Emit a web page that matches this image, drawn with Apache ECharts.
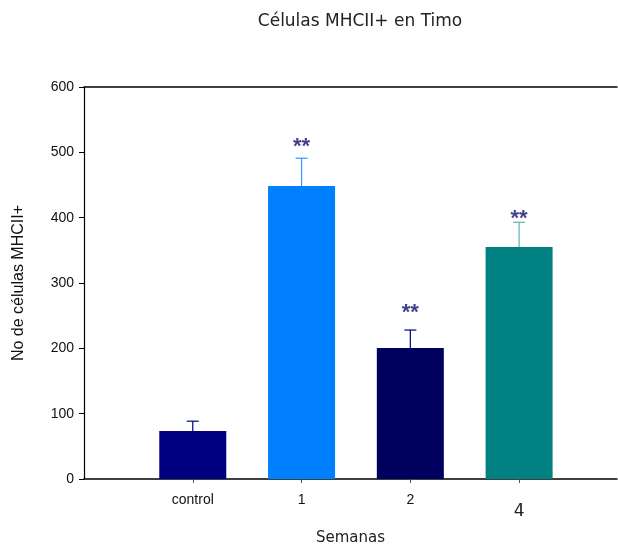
<!DOCTYPE html>
<html>
<head>
<meta charset="utf-8">
<script src="https://cdn.jsdelivr.net/npm/echarts@6/dist/echarts.min.js"></script>
<style>
  html, body { margin: 0; padding: 0; background: #fff; }
  #main { width: 618px; height: 545px; }
</style>
</head>
<body>
<div id="main"></div>
<script>
// datos
var categorias = ['control', '1', '2', '4'];
var medias = [73.5, 448.5, 200.5, 355];
var errores = [15, 42.5, 27.5, 38];
var significancia = ['', '**', '**', '**'];
var alturaAsteriscos = [null, 516, 262, 406];
var colores = ['#000080', '#0080ff', '#00005e', '#008080'];
var coloresError = ['#000080', '#3399ff', '#000080', '#5fb0b0'];

var fuente = 'Liberation Sans';
var chart = echarts.init(document.getElementById('main'));

var datosBarras = medias.map(function (v, i) {
  return { value: [i + 1, v], itemStyle: { color: colores[i] } };
});
var datosError = medias.map(function (v, i) {
  return [i + 1, v, v + errores[i]];
});
var datosAst = [];
alturaAsteriscos.forEach(function (v, i) {
  if (v != null) datosAst.push({ value: [i + 1, v], label: { formatter: significancia[i] } });
});

var option = {
  animation: false,
  title: {
    text: 'Células MHCII+ en Timo',
    left: 355,
    textAlign: 'center',
    top: 8,
    textStyle: { fontSize: 17, fontWeight: 'normal', color: '#222', fontFamily: 'DejaVu Sans' }
  },
  grid: { left: 84, right: 1, top: 87, bottom: 66, outerBoundsMode: 'none', containLabel: false },
  xAxis: [{
    type: 'value',
    min: 0,
    max: 4.9,
    interval: 1,
    name: 'Semanas',
    nameLocation: 'middle',
    nameGap: 52,
    nameTextStyle: { fontSize: 15, color: '#222', fontFamily: 'DejaVu Sans' },
    axisLine: { lineStyle: { color: '#000', width: 1.5 } },
    axisTick: { customValues: [1, 2, 3, 4], length: 4, lineStyle: { color: '#555' } },
    axisLabel: {
      customValues: [1, 2, 3, 4],
      margin: 14,
      fontSize: 14,
      color: '#111',
      fontFamily: fuente,
      formatter: function (v) {
        var t = categorias[Math.round(v) - 1] || '';
        return t === '4' ? '{big|4}' : t;
      },
      rich: { big: { fontSize: 17, color: '#222', padding: [10, 0, 0, 0], fontFamily: 'DejaVu Sans' } }
    },
    splitLine: { show: false }
  }, {
    type: 'value',
    position: 'top',
    min: 0,
    max: 4.9,
    axisLine: { show: true, lineStyle: { color: '#000', width: 1.5 } },
    axisTick: { show: false },
    axisLabel: { show: false },
    splitLine: { show: false }
  }],
  yAxis: {
    type: 'value',
    min: 0,
    max: 600,
    interval: 100,
    name: 'No de células MHCII+',
    nameLocation: 'middle',
    nameGap: 57,
    nameTextStyle: { fontSize: 16, color: '#111', fontFamily: fuente },
    axisLine: { show: true, lineStyle: { color: '#000', width: 1.2 } },
    axisTick: { show: true, length: 5, lineStyle: { color: '#000' } },
    axisLabel: { fontSize: 14, color: '#111', margin: 10, fontFamily: fuente },
    splitLine: { show: false }
  },
  series: [{
    type: 'bar',
    barWidth: 67,
    data: datosBarras,
    z: 2
  }, {
    type: 'custom',
    z: 3,
    data: datosError,
    renderItem: function (params, api) {
      var i = params.dataIndex;
      var base = api.coord([api.value(0), api.value(1)]);
      var top = api.coord([api.value(0), api.value(2)]);
      var c = coloresError[i];
      return {
        type: 'group',
        children: [{
          type: 'line',
          shape: { x1: base[0], y1: base[1], x2: top[0], y2: top[1] },
          style: { stroke: c, lineWidth: 1.2 }
        }, {
          type: 'line',
          shape: { x1: top[0] - 6, y1: top[1], x2: top[0] + 6, y2: top[1] },
          style: { stroke: c, lineWidth: 1.2 }
        }]
      };
    }
  }, {
    type: 'scatter',
    symbolSize: 0,
    data: datosAst,
    z: 4,
    label: {
      show: true,
      position: 'inside',
      offset: [0, 5],
      fontSize: 22,
      fontWeight: 'bold',
      color: '#10106e',
      fontFamily: fuente
    }
  }]
};

chart.setOption(option);
</script>
</body>
</html>
